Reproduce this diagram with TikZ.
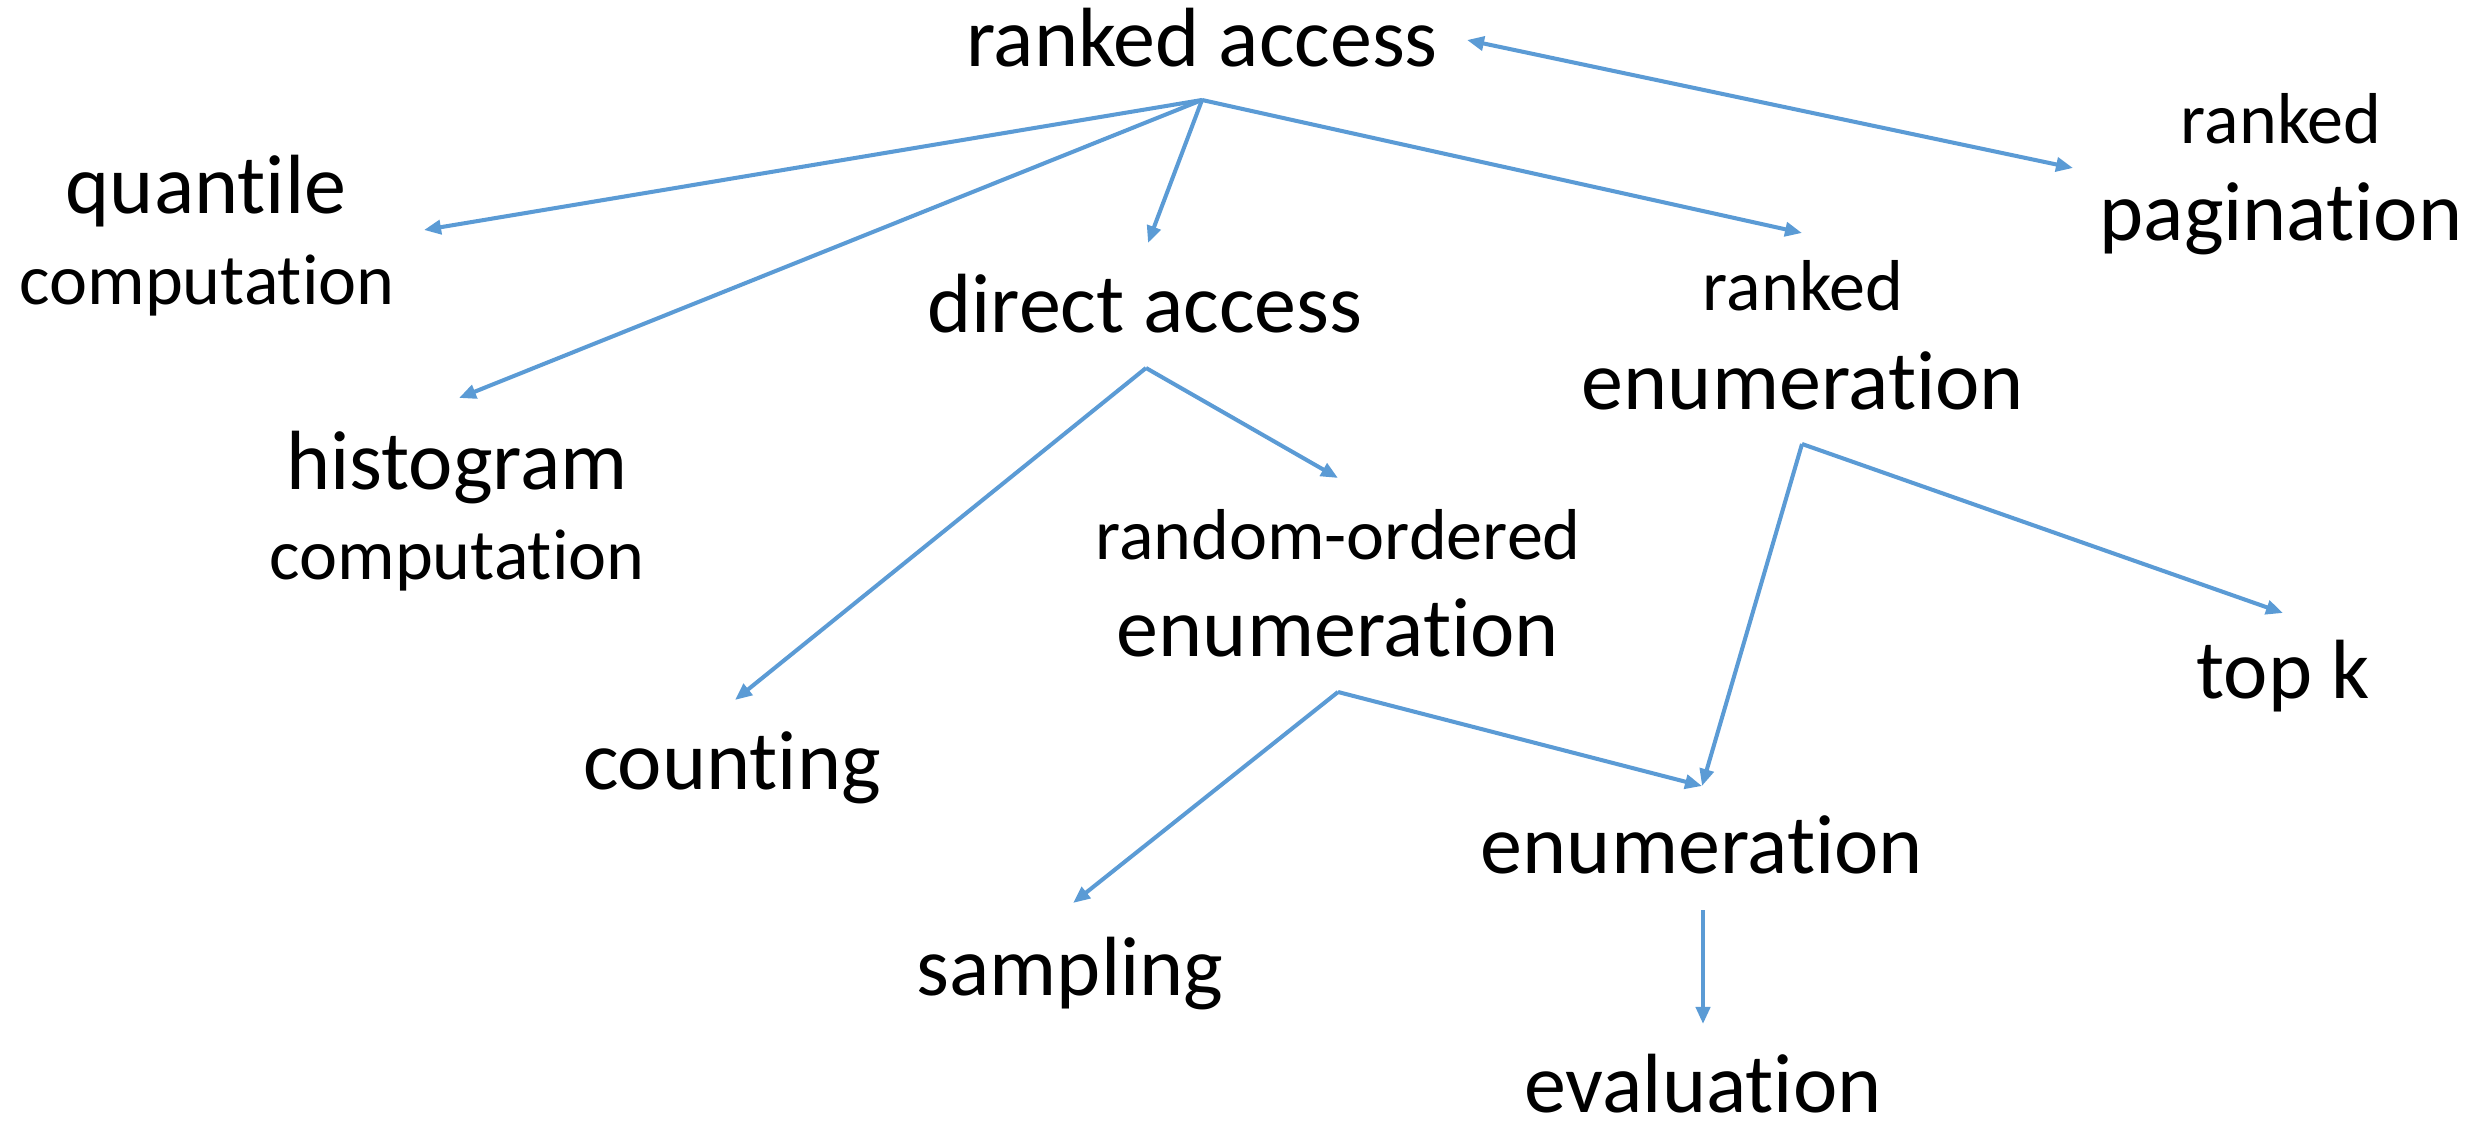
\documentclass[tikz,border=0pt]{standalone}
\usepackage{fontspec}
\setmainfont{Carlito}[Ligatures={NoCommon,NoContextual,NoRare},Contextuals=NoAlternate]
\usetikzlibrary{arrows.meta}
\definecolor{arr}{HTML}{5B9BD5}
\newcommand{\nlg}{\kern0pt }
\begin{document}
\begin{tikzpicture}[x=0.01cm,y=-0.01cm,
  big/.style={anchor=base, inner sep=0pt, font=\fontsize{23.9}{28}\selectfont},
  smalltxt/.style={anchor=base, inner sep=0pt, font=\fontsize{20.5}{24}\selectfont},
  link/.style={draw=arr, line width=1.15pt, -{Triangle[length=0.17cm,width=0.14cm]}},
  dlink/.style={draw=arr, line width=1.15pt, {Triangle[length=0.17cm,width=0.14cm]}-{Triangle[length=0.17cm,width=0.14cm]}}]
\useasboundingbox (0,0) rectangle (2489,1122);
% labels
\node[big] (ra) at (1202,67) {ranked access};
\node[big] (q1) at (206,214) {quant\nlg ile};
\node[smalltxt] (q2) at (207,305) {computat\nlg ion};
\node[big] (da) at (1145,333) {direct access};
\node[smalltxt] (re1) at (1803,311) {ranked};
\node[big] (re2) at (1803,410) {enumerat\nlg ion};
\node[smalltxt] (rp1) at (2281,144) {ranked};
\node[big] (rp2) at (2281,241) {paginat\nlg ion};
\node[big] (h1) at (457,489) {histogram};
\node[smalltxt] (h2) at (457,579) {computat\nlg ion};
\node[smalltxt] (ro1) at (1338,559) {random-ordered};
\node[big] (ro2) at (1338,656) {enumerat\nlg ion};
\node[big] (cnt) at (732,789) {count\nlg ing};
\node[big] (tk) at (2283,698) {top k};
\node[big] (en) at (1702,873) {enumerat\nlg ion};
\node[big] (smp) at (1070,995) {sampling};
\node[big] (ev) at (1703,1112) {evaluat\nlg ion};
% connector ends
\coordinate (raO) at (1202,100);
\coordinate (qI) at (424,230);
\coordinate (hI) at (459,398);
\coordinate (daI) at (1148,243);
\coordinate (reI) at (1802,233);
\coordinate (raR) at (1467,40);
\coordinate (rpI) at (2073,168);
\coordinate (daO) at (1146,368);
\coordinate (cntI) at (735,700);
\coordinate (roI) at (1338,478);
\coordinate (reO) at (1802,444);
\coordinate (enI) at (1702,786);
\coordinate (tkI) at (2283,613);
\coordinate (roO) at (1338,692);
\coordinate (smpI) at (1073,903);
\coordinate (enO) at (1703,910);
\coordinate (evI) at (1703,1024);
% connectors
\draw[link] (raO) -- (qI);
\draw[link] (raO) -- (hI);
\draw[link] (raO) -- (daI);
\draw[link] (raO) -- (reI);
\draw[dlink] (raR) -- (rpI);
\draw[link] (daO) -- (cntI);
\draw[link] (daO) -- (roI);
\draw[link] (reO) -- (enI);
\draw[link] (reO) -- (tkI);
\draw[link] (roO) -- (enI);
\draw[link] (roO) -- (smpI);
\draw[link] (enO) -- (evI);
\end{tikzpicture}
\end{document}
